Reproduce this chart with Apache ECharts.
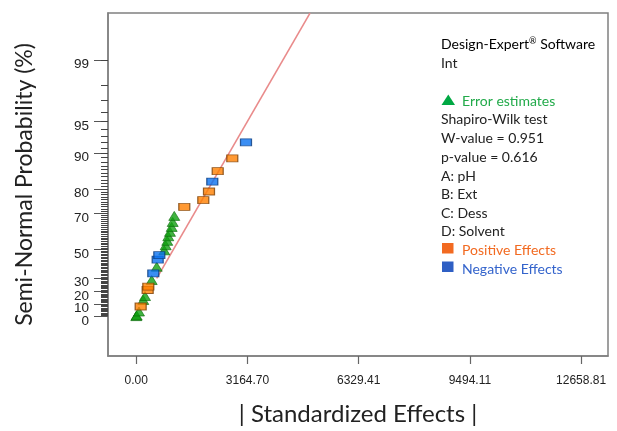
<!DOCTYPE html>
<html>
<head>
<meta charset="utf-8">
<script src="https://cdn.jsdelivr.net/npm/echarts@6/dist/echarts.min.js"></script>
<style>
html, body { margin: 0; padding: 0; background: #fff; }
#container { width: 617px; height: 431px; }
</style>
</head>
<body>
<div id="container"></div>
<script>
// semi-normal probability axis labels (%) and effect axis ticks
let probTicks = [0, 10, 20, 30, 50, 70, 80, 90, 95, 99];
let xTicks = [0, 3164.70, 6329.41, 9494.11, 12658.81];

// [ |effect|, probability % ]
let errorEstimates = [[0, 0.3], [11, 0.8], [77, 4.0], [199, 13.2], [248, 16.3], [438, 28.6], [581, 38.3],
    [797, 49.4], [837, 52.6], [882, 55.3], [911, 58.0], [959, 60.5], [1007, 63.2], [1036, 65.8], [1081, 68.8]];
let positiveEffects = [[125, 8.0], [324, 21.0], [342, 23.6], [1366, 72.9], [1907, 75.8], [2069, 79.1], [2317, 85.6], [2732, 88.8]];
let negativeEffects = [[484, 33.5], [609, 43.3], [655, 46.2], [2163, 82.5], [3122, 92.0]];
let fitLine = [[581, 29.8], [4944, 99.77]];

// inverse normal cdf (Acklam)
function invNorm(p) {
    const a = [-3.969683028665376e+01, 2.209460984245205e+02, -2.759285104469687e+02, 1.383577518672690e+02, -3.066479806614716e+01, 2.506628277459239e+00];
    const b = [-5.447609879822406e+01, 1.615858368580409e+02, -1.556989798598866e+02, 6.680131188771972e+01, -1.328068155288572e+01];
    const c = [-7.784894002430293e-03, -3.223964580411365e-01, -2.400758277161838e+00, -2.549732539343734e+00, 4.374664141464968e+00, 2.938163982698783e+00];
    const d = [7.784695709041462e-03, 3.224671290700398e-01, 2.445134137142996e+00, 3.754408661907416e+00];
    const pl = 0.02425;
    let q, r;
    if (p < pl) {
        q = Math.sqrt(-2 * Math.log(p));
        return (((((c[0] * q + c[1]) * q + c[2]) * q + c[3]) * q + c[4]) * q + c[5]) / ((((d[0] * q + d[1]) * q + d[2]) * q + d[3]) * q + 1);
    }
    if (p <= 1 - pl) {
        q = p - 0.5;
        r = q * q;
        return (((((a[0] * r + a[1]) * r + a[2]) * r + a[3]) * r + a[4]) * r + a[5]) * q / (((((b[0] * r + b[1]) * r + b[2]) * r + b[3]) * r + b[4]) * r + 1);
    }
    q = Math.sqrt(-2 * Math.log(1 - p));
    return -(((((c[0] * q + c[1]) * q + c[2]) * q + c[3]) * q + c[4]) * q + c[5]) / ((((d[0] * q + d[1]) * q + d[2]) * q + d[3]) * q + 1);
}
function zOf(pct) {
    return pct <= 0 ? 0 : invNorm(0.5 + pct / 200);
}
function toZ(points) {
    return points.map(p => [p[0], zOf(p[1])]);
}
function probLabel(v) {
    let p = probTicks.find(t => Math.abs(zOf(t) - v) < 1e-6);
    return p === undefined ? '' : String(p);
}

let minorTicks = [];
for (let i = 1; i < 100; i++) minorTicks.push(zOf(i));
let majorTicks = probTicks.map(zOf);
// labels alternate between two axes, so the tightly packed 0/10/20/30 labels are not thinned out
let labelsA = probTicks.filter((p, i) => i % 2 == 0).map(zOf);
let labelsB = probTicks.filter((p, i) => i % 2 == 1).map(zOf);

let chart = echarts.init(document.getElementById('container'));

let font = 'Lato';
let ink = '#222';
let legendLines = [
    {text: 'Int', y: 63},
    {text: 'Shapiro-Wilk test', y: 119},
    {text: 'W-value = 0.951', y: 138},
    {text: 'p-value = 0.616', y: 157},
    {text: 'A: pH', y: 176},
    {text: 'B: Ext', y: 194},
    {text: 'C: Dess', y: 213},
    {text: 'D: Solvent', y: 231},
];
let graphics = legendLines.map(l => ({
    type: 'text', x: 441, y: l.y,
    style: {text: l.text, fill: ink, font: '14px ' + font, verticalAlign: 'middle'}
}));
graphics.push({
    type: 'text', x: 441, y: 44,
    style: {
        text: '{a|Design-Expert}{s|®}{a| Software}', verticalAlign: 'middle',
        rich: {
            a: {fontFamily: font, fontSize: 14, color: ink},
            s: {fontFamily: font, fontSize: 9, color: ink, verticalAlign: 'top', padding: [0, 0, 6, 0]}
        }
    }
});
graphics.push({type: 'polygon', shape: {points: [[448.3, 94.5], [441.5, 105], [455, 105]]}, style: {fill: '#00a843'}});
graphics.push({type: 'text', x: 462, y: 101, style: {text: 'Error estimates', fill: '#22aa4a', font: '14px ' + font, verticalAlign: 'middle'}});
graphics.push({type: 'rect', shape: {x: 442, y: 243, width: 11.5, height: 10.5}, style: {fill: '#f26a21'}});
graphics.push({type: 'text', x: 462, y: 250, style: {text: 'Positive Effects', fill: '#f26a21', font: '14px ' + font, verticalAlign: 'middle'}});
graphics.push({type: 'rect', shape: {x: 442, y: 261.5, width: 11.5, height: 10.5}, style: {fill: '#2f5fc4'}});
graphics.push({type: 'text', x: 462, y: 269, style: {text: 'Negative Effects', fill: '#3464cc', font: '14px ' + font, verticalAlign: 'middle'}});

let yLabelStyle = {
    margin: 19, color: ink,
    hideOverlap: false, showMinLabel: true, showMaxLabel: true,
    fontFamily: 'Liberation Sans', fontSize: 13.5, lineHeight: 9, verticalAlign: 'top',
    formatter: probLabel
};

let option = {
    animation: false,
    backgroundColor: '#fff',
    grid: {
        left: 108, top: 13, right: 9, bottom: 73,
        show: true, borderColor: '#808080', borderWidth: 1.5
    },
    xAxis: {
        type: 'value',
        min: -805, max: 13424,
        splitLine: {show: false},
        axisLine: {onZero: false, lineStyle: {color: '#808080', width: 1.5}},
        axisTick: {customValues: xTicks, length: 8, lineStyle: {color: '#666', width: 1.2}},
        axisLabel: {
            customValues: xTicks, margin: 19, color: ink,
            showMinLabel: true, showMaxLabel: true,
            fontFamily: 'Liberation Sans', fontSize: 12,
            formatter: v => v.toFixed(2)
        },
        name: '| Standardized Effects |',
        nameLocation: 'middle', nameGap: 46,
        nameTextStyle: {fontFamily: font, fontSize: 24, color: ink}
    },
    yAxis: [{
        type: 'value',
        min: -0.397, max: 3.05,
        splitLine: {show: false},
        axisLine: {onZero: false, lineStyle: {color: '#808080', width: 1.5}},
        axisTick: {customValues: majorTicks, length: 14, lineStyle: {color: '#555', width: 1}},
        axisLabel: Object.assign({customValues: labelsA}, yLabelStyle),
        name: 'Semi-Normal Probability (%)',
        nameLocation: 'middle', nameGap: 72,
        nameTextStyle: {fontFamily: font, fontSize: 23, color: ink}
    }, {
        type: 'value',
        min: -0.397, max: 3.05,
        position: 'left',
        splitLine: {show: false},
        axisLine: {show: false, onZero: false},
        axisTick: {customValues: minorTicks, length: 7, lineStyle: {color: '#444', width: 1}},
        axisLabel: {show: false}
    }, {
        type: 'value',
        min: -0.397, max: 3.05,
        position: 'left',
        splitLine: {show: false},
        axisLine: {show: false, onZero: false},
        axisTick: {show: false},
        axisLabel: Object.assign({customValues: labelsB}, yLabelStyle)
    }],
    series: [{
        type: 'line',
        data: toZ(fitLine),
        symbol: 'none',
        lineStyle: {color: '#e98b8b', width: 1.6},
        z: 1
    }, {
        name: 'Error estimates',
        type: 'scatter',
        data: toZ(errorEstimates),
        symbol: 'triangle',
        symbolSize: [11, 9],
        itemStyle: {color: '#10a010', borderColor: '#0a6a0a', borderWidth: 0.8},
        z: 3
    }, {
        name: 'Negative Effects',
        type: 'scatter',
        data: toZ(negativeEffects),
        symbol: 'rect',
        symbolSize: [11, 7],
        itemStyle: {color: '#0a72f0', borderColor: '#0a3a7a', borderWidth: 1},
        z: 4
    }, {
        name: 'Positive Effects',
        type: 'scatter',
        data: toZ(positiveEffects),
        symbol: 'rect',
        symbolSize: [11, 7],
        itemStyle: {color: '#ff7f00', borderColor: '#7a4008', borderWidth: 1},
        z: 4
    }],
    graphic: graphics
};
chart.setOption(option);
</script>
</body>
</html>
